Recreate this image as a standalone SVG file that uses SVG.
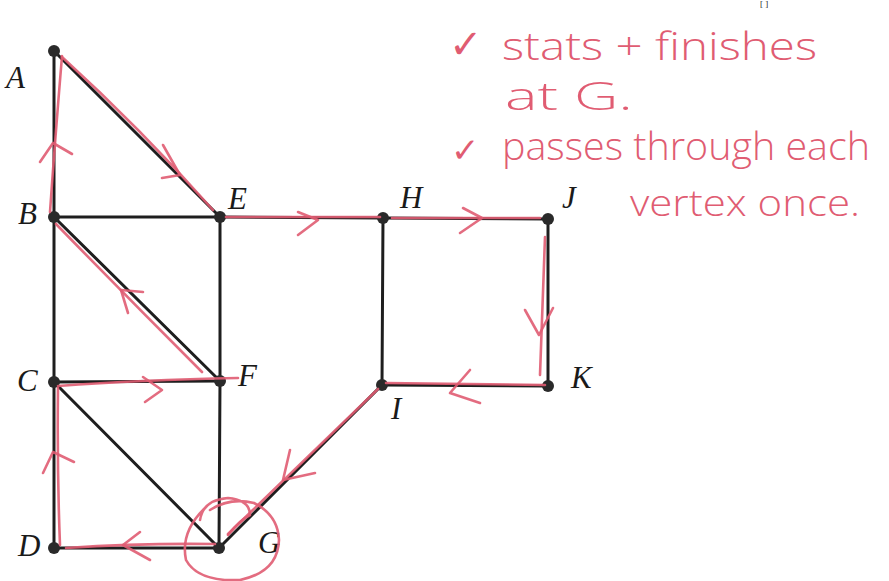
<svg xmlns="http://www.w3.org/2000/svg" width="889" height="581" viewBox="0 0 889 581">
<style>
.edge{stroke:#1e1e1e;stroke-width:3;fill:none;stroke-linecap:round}
.node{fill:#2a2a2a}
.lbl{font-family:"Liberation Serif",serif;font-style:italic;font-size:31px;fill:#1a1a1a}
.red{stroke:#e05c72;stroke-width:2.6;fill:none;stroke-linecap:round;stroke-linejoin:round;opacity:0.9}
.note{font-family:"Open Sans","DejaVu Sans",sans-serif;font-weight:300;fill:#e05c72}
</style>
<rect width="889" height="581" fill="#ffffff"/>
<text x="760" y="7" font-family="Liberation Serif, serif" font-size="9" fill="#222">[   ]</text>
<g id="connectors">
<line class="edge" x1="54" y1="51" x2="54" y2="217"/>
<line class="edge" x1="54" y1="51" x2="220" y2="217"/>
<line class="edge" x1="54" y1="217" x2="220" y2="217"/>
<line class="edge" x1="54" y1="217" x2="54" y2="382"/>
<line class="edge" x1="54" y1="217" x2="220" y2="381"/>
<line class="edge" x1="54" y1="382" x2="220" y2="381"/>
<line class="edge" x1="54" y1="382" x2="54" y2="548"/>
<line class="edge" x1="54" y1="382" x2="219" y2="548"/>
<line class="edge" x1="220" y1="217" x2="220" y2="381"/>
<line class="edge" x1="220" y1="381" x2="219" y2="548"/>
<line class="edge" x1="54" y1="548" x2="219" y2="548"/>
<line class="edge" x1="220" y1="217" x2="383" y2="218"/>
<line class="edge" x1="383" y1="218" x2="548" y2="219"/>
<line class="edge" x1="383" y1="218" x2="382" y2="385"/>
<line class="edge" x1="548" y1="219" x2="548" y2="386"/>
<line class="edge" x1="382" y1="385" x2="548" y2="386"/>
<line class="edge" x1="382" y1="385" x2="219" y2="548"/>
</g>
<g id="node-A"><circle class="node" cx="54" cy="51" r="6"/><text class="lbl" x="6" y="88">A</text></g>
<g id="node-B"><circle class="node" cx="54" cy="217" r="6"/><text class="lbl" x="18" y="224">B</text></g>
<g id="node-C"><circle class="node" cx="54" cy="382" r="6"/><text class="lbl" x="17" y="391">C</text></g>
<g id="node-D"><circle class="node" cx="54" cy="548" r="6"/><text class="lbl" x="18" y="556">D</text></g>
<g id="node-E"><circle class="node" cx="220" cy="217" r="6"/><text class="lbl" x="228" y="209">E</text></g>
<g id="node-F"><circle class="node" cx="220" cy="381" r="6"/><text class="lbl" x="238" y="386">F</text></g>
<g id="node-G"><circle class="node" cx="219" cy="548" r="6"/><text class="lbl" x="258" y="553">G</text></g>
<g id="node-H"><circle class="node" cx="383" cy="218" r="6"/><text class="lbl" x="400" y="208">H</text></g>
<g id="node-I"><circle class="node" cx="382" cy="385" r="6"/><text class="lbl" x="391" y="419">I</text></g>
<g id="node-J"><circle class="node" cx="548" cy="219" r="6"/><text class="lbl" x="562" y="208">J</text></g>
<g id="node-K"><circle class="node" cx="548" cy="386" r="6"/><text class="lbl" x="571" y="388">K</text></g>
<g id="annotation">
<path class="red" d="M228,534 L378,389"/>
<path class="red" d="M290,450 L283,480 L315,473"/>
<path class="red" d="M386,383 L545,385"/>
<path class="red" d="M470,370 L450,393 L480,403"/>
<path class="red" d="M545,237 Q543,300 540,375"/>
<path class="red" d="M525,310 L539,335 L553,308"/>
<path class="red" d="M392,218 L540,218"/>
<path class="red" d="M463,208 L482,218 L460,233"/>
<path class="red" d="M226,217 L380,217"/>
<path class="red" d="M298,212 L318,220 L298,235"/>
<path class="red" d="M213,210 Q140,128 62,57"/>
<path class="red" d="M163,145 L180,175 L162,178"/>
<path class="red" d="M62,56 Q55,140 50,212"/>
<path class="red" d="M40,162 L53,143 L72,154"/>
<path class="red" d="M56,224 Q130,300 202,372"/>
<path class="red" d="M128,313 L121,290 L143,292"/>
<path class="red" d="M58,386 Q140,380 238,378"/>
<path class="red" d="M143,377 L162,390 L145,402"/>
<path class="red" d="M58,388 Q57,470 60,545"/>
<path class="red" d="M43,473 L53,452 L74,462"/>
<path class="red" d="M66,548 Q140,543 215,544"/>
<path class="red" d="M140,532 L123,545 L150,560"/>
<path class="red" d="M200,520 Q203,500 228,498 Q250,500 250,515 Q240,520 228,535 M210,510 Q230,497 254,503 Q278,515 279,540 Q278,572 240,580 Q198,582 186,560 Q180,532 205,508"/>
<text class="note" x="449" y="58" font-size="40" font-family="DejaVu Sans, sans-serif">✓</text>
<text class="note" x="502" y="60" font-size="38" textLength="315" lengthAdjust="spacingAndGlyphs">stats + finishes</text>
<text class="note" x="505" y="110" font-size="38" textLength="128" lengthAdjust="spacingAndGlyphs">at G.</text>
<text class="note" x="451" y="162" font-size="34" font-family="DejaVu Sans, sans-serif">✓</text>
<text class="note" x="502" y="160" font-size="38" textLength="368" lengthAdjust="spacingAndGlyphs">passes through each</text>
<text class="note" x="630" y="216" font-size="36" textLength="230" lengthAdjust="spacingAndGlyphs">vertex once.</text>
</g>
</svg>
